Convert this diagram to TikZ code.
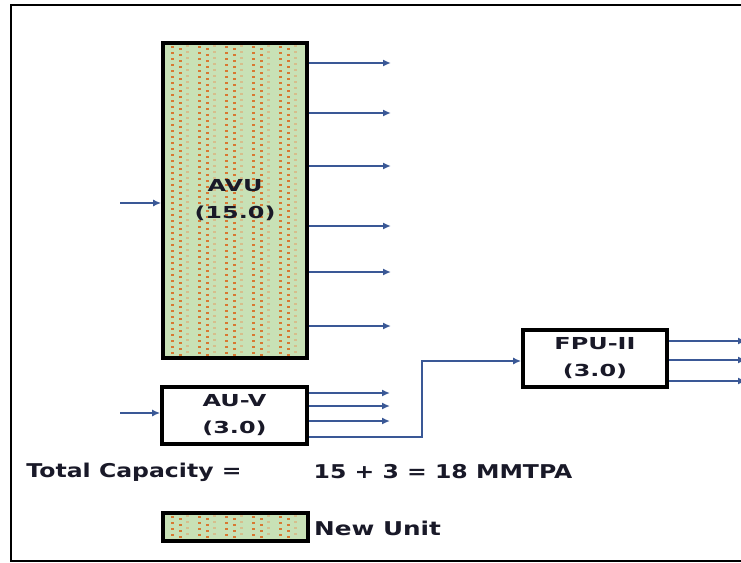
\documentclass[tikz,border=0pt]{standalone}
\usepackage{fontspec}
\setmainfont{DejaVu Sans}
\usetikzlibrary{arrows.meta}
\definecolor{flowc}{RGB}{58,88,150}
\definecolor{newfill}{RGB}{200,225,182}
\definecolor{dotor}{RGB}{216,120,50}
\definecolor{dottan}{RGB}{214,190,140}
\definecolor{txt}{RGB}{25,25,40}
\newcommand\wide[2]{\scalebox{#1}[1]{#2}}
\tikzset{
  flow/.style={draw=flowc, line width=1.6pt, -{Latex[length=8pt,width=7pt]}},
  unitbox/.style={draw=black, line width=3.6pt, fill=white, inner sep=0pt, align=center,
    font=\bfseries\fontsize{16.5}{27}\selectfont, text=txt},
  dotted fill/.style={fill=newfill, path picture={
    \foreach \p in {0,27,...,140}{
      \foreach \j in {0,6,...,320}{
        \fill[dotor] ([shift={(\p+8,\j+3)}]path picture bounding box.north west) rectangle ++(3,2);
        \fill[dotor] ([shift={(\p+16,\j+5)}]path picture bounding box.north west) rectangle ++(3,2);
        \fill[dottan] ([shift={(\p+23,\j+2)}]path picture bounding box.north west) rectangle ++(3,2);
      }
    }}},
  plain/.style={font=\bfseries\fontsize{19}{22}\selectfont, text=txt, inner sep=0pt}
}
\begin{document}
\begin{tikzpicture}[x=1pt,y=-1pt]
\useasboundingbox (0,0) rectangle (741,562);
\clip (0,0) rectangle (741,562);
\fill[white] (0,0) rectangle (741,562);
% frame
\draw[line width=2.4pt] (11,5) rectangle (770,561);

% units
\node[unitbox, dotted fill, minimum width=144pt, minimum height=315pt] (avu) at (235,200.5)
  {\wide{1.45}{AVU}\\\wide{1.45}{(15.0)}};
\node[unitbox, minimum width=145pt, minimum height=57pt] (auv) at (234.5,415.5)
  {\wide{1.45}{AU-V}\\\wide{1.45}{(3.0)}};
\node[unitbox, minimum width=144pt, minimum height=57pt] (fpu) at (595,358.5)
  {\wide{1.45}{FPU-II}\\\wide{1.45}{(3.0)}};

% AVU connectors
\coordinate (inavu) at (120,203);
\draw[flow] (inavu) -- (inavu -| avu.west);
\foreach \y [count=\k] in {63,113,166,226,272,326}{
  \coordinate (ao\k) at (391,\y);
  \draw[flow] (avu.east |- ao\k) -- (ao\k);
}

% AU-V connectors
\coordinate (inauv) at (120,413);
\draw[flow] (inauv) -- (inauv -| auv.west);
\foreach \y [count=\k] in {393,406,421}{
  \coordinate (uo\k) at (390,\y);
  \draw[flow] (auv.east |- uo\k) -- (uo\k);
}
\coordinate (bend) at (422,437);
\coordinate (fin) at (522,361);
\draw[flow] (auv.east |- bend) -- (bend) |- (fpu.west |- fin);

% FPU-II outputs
\foreach \y [count=\k] in {341,360,381}{
  \coordinate (fo\k) at (746,\y);
  \draw[flow] (fpu.east |- fo\k) -- (fo\k);
}

% totals
\node[plain] (tc) at (134,472) {\wide{1.24}{Total Capacity =}};
\node[plain] (sum) at (443,472) {\wide{1.24}{15 + 3 = 18 MMTPA}};

% legend
\node[unitbox, dotted fill, minimum width=145pt, minimum height=28pt] (leg) at (235.5,527) {};
\node[plain, anchor=west] (legt) at (314,528) {\wide{1.3}{New Unit}};
\end{tikzpicture}
\end{document}
